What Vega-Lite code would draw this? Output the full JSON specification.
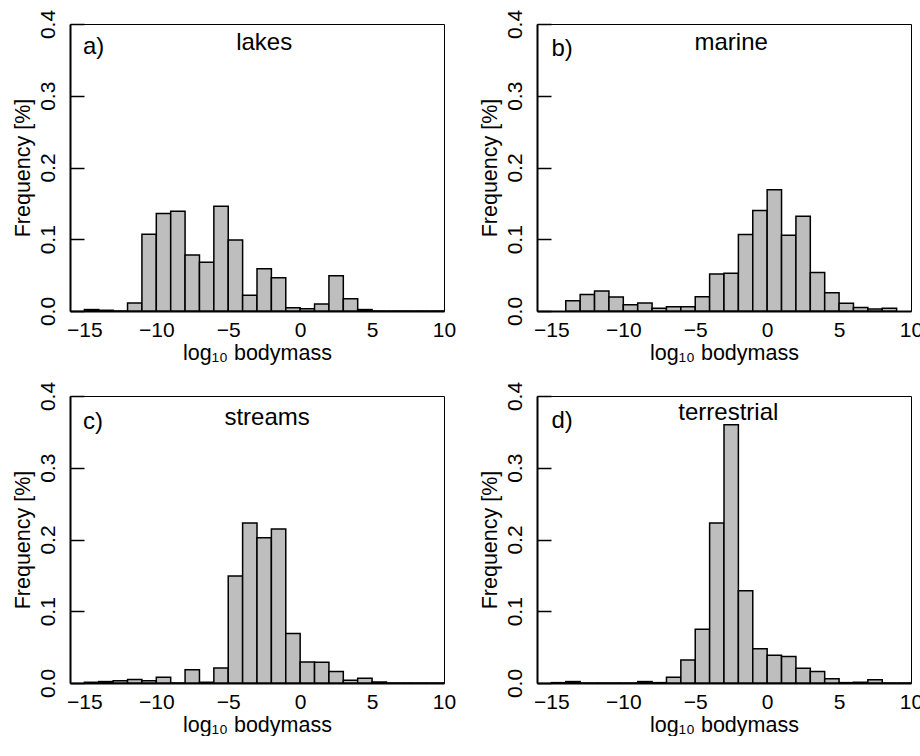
{
  "$schema": "https://vega.github.io/schema/vega-lite/v6.json",
  "padding": {"left": 11, "top": 8, "right": 0, "bottom": 0},
  "background": "white",
  "datasets": {
    "hist": [
      {"panel": "lakes", "start": -15, "end": -14, "freq": 0.002},
      {"panel": "lakes", "start": -14, "end": -13, "freq": 0.001},
      {"panel": "lakes", "start": -13, "end": -12, "freq": 0},
      {"panel": "lakes", "start": -12, "end": -11, "freq": 0.011},
      {"panel": "lakes", "start": -11, "end": -10, "freq": 0.107},
      {"panel": "lakes", "start": -10, "end": -9, "freq": 0.136},
      {"panel": "lakes", "start": -9, "end": -8, "freq": 0.139},
      {"panel": "lakes", "start": -8, "end": -7, "freq": 0.078},
      {"panel": "lakes", "start": -7, "end": -6, "freq": 0.068},
      {"panel": "lakes", "start": -6, "end": -5, "freq": 0.146},
      {"panel": "lakes", "start": -5, "end": -4, "freq": 0.099},
      {"panel": "lakes", "start": -4, "end": -3, "freq": 0.022},
      {"panel": "lakes", "start": -3, "end": -2, "freq": 0.059},
      {"panel": "lakes", "start": -2, "end": -1, "freq": 0.0465},
      {"panel": "lakes", "start": -1, "end": 0, "freq": 0.0047},
      {"panel": "lakes", "start": 0, "end": 1, "freq": 0.003},
      {"panel": "lakes", "start": 1, "end": 2, "freq": 0.0098},
      {"panel": "lakes", "start": 2, "end": 3, "freq": 0.049},
      {"panel": "lakes", "start": 3, "end": 4, "freq": 0.017},
      {"panel": "lakes", "start": 4, "end": 5, "freq": 0.002},
      {"panel": "lakes", "start": 5, "end": 6, "freq": 0},
      {"panel": "lakes", "start": 6, "end": 7, "freq": 0},
      {"panel": "lakes", "start": 7, "end": 8, "freq": 0},
      {"panel": "lakes", "start": 8, "end": 9, "freq": 0},
      {"panel": "lakes", "start": 9, "end": 10, "freq": 0},
      {"panel": "marine", "start": -14, "end": -13, "freq": 0.0144},
      {"panel": "marine", "start": -13, "end": -12, "freq": 0.023},
      {"panel": "marine", "start": -12, "end": -11, "freq": 0.028},
      {"panel": "marine", "start": -11, "end": -10, "freq": 0.0195},
      {"panel": "marine", "start": -10, "end": -9, "freq": 0.0088},
      {"panel": "marine", "start": -9, "end": -8, "freq": 0.011},
      {"panel": "marine", "start": -8, "end": -7, "freq": 0.0037},
      {"panel": "marine", "start": -7, "end": -6, "freq": 0.006},
      {"panel": "marine", "start": -6, "end": -5, "freq": 0.006},
      {"panel": "marine", "start": -5, "end": -4, "freq": 0.02},
      {"panel": "marine", "start": -4, "end": -3, "freq": 0.0516},
      {"panel": "marine", "start": -3, "end": -2, "freq": 0.0526},
      {"panel": "marine", "start": -2, "end": -1, "freq": 0.1065},
      {"panel": "marine", "start": -1, "end": 0, "freq": 0.14},
      {"panel": "marine", "start": 0, "end": 1, "freq": 0.169},
      {"panel": "marine", "start": 1, "end": 2, "freq": 0.1056},
      {"panel": "marine", "start": 2, "end": 3, "freq": 0.132},
      {"panel": "marine", "start": 3, "end": 4, "freq": 0.0535},
      {"panel": "marine", "start": 4, "end": 5, "freq": 0.0256},
      {"panel": "marine", "start": 5, "end": 6, "freq": 0.0107},
      {"panel": "marine", "start": 6, "end": 7, "freq": 0.005},
      {"panel": "marine", "start": 7, "end": 8, "freq": 0.0028},
      {"panel": "marine", "start": 8, "end": 9, "freq": 0.004},
      {"panel": "streams", "start": -15, "end": -14, "freq": 0.001},
      {"panel": "streams", "start": -14, "end": -13, "freq": 0.002},
      {"panel": "streams", "start": -13, "end": -12, "freq": 0.003},
      {"panel": "streams", "start": -12, "end": -11, "freq": 0.005},
      {"panel": "streams", "start": -11, "end": -10, "freq": 0.003},
      {"panel": "streams", "start": -10, "end": -9, "freq": 0.008},
      {"panel": "streams", "start": -9, "end": -8, "freq": 0},
      {"panel": "streams", "start": -8, "end": -7, "freq": 0.0186},
      {"panel": "streams", "start": -7, "end": -6, "freq": 0.001},
      {"panel": "streams", "start": -6, "end": -5, "freq": 0.021},
      {"panel": "streams", "start": -5, "end": -4, "freq": 0.149},
      {"panel": "streams", "start": -4, "end": -3, "freq": 0.223},
      {"panel": "streams", "start": -3, "end": -2, "freq": 0.2023},
      {"panel": "streams", "start": -2, "end": -1, "freq": 0.2145},
      {"panel": "streams", "start": -1, "end": 0, "freq": 0.069},
      {"panel": "streams", "start": 0, "end": 1, "freq": 0.0294},
      {"panel": "streams", "start": 1, "end": 2, "freq": 0.029},
      {"panel": "streams", "start": 2, "end": 3, "freq": 0.0159},
      {"panel": "streams", "start": 3, "end": 4, "freq": 0.0037},
      {"panel": "streams", "start": 4, "end": 5, "freq": 0.0065},
      {"panel": "streams", "start": 5, "end": 6, "freq": 0.0014},
      {"panel": "streams", "start": 6, "end": 7, "freq": 0},
      {"panel": "streams", "start": 7, "end": 8, "freq": 0},
      {"panel": "streams", "start": 8, "end": 9, "freq": 0},
      {"panel": "streams", "start": 9, "end": 10, "freq": 0},
      {"panel": "terrestrial", "start": -15, "end": -14, "freq": 0.0005},
      {"panel": "terrestrial", "start": -14, "end": -13, "freq": 0.002},
      {"panel": "terrestrial", "start": -13, "end": -12, "freq": 0},
      {"panel": "terrestrial", "start": -12, "end": -11, "freq": 0},
      {"panel": "terrestrial", "start": -11, "end": -10, "freq": 0},
      {"panel": "terrestrial", "start": -10, "end": -9, "freq": 0},
      {"panel": "terrestrial", "start": -9, "end": -8, "freq": 0.002},
      {"panel": "terrestrial", "start": -8, "end": -7, "freq": 0.0005},
      {"panel": "terrestrial", "start": -7, "end": -6, "freq": 0.008},
      {"panel": "terrestrial", "start": -6, "end": -5, "freq": 0.032},
      {"panel": "terrestrial", "start": -5, "end": -4, "freq": 0.075},
      {"panel": "terrestrial", "start": -4, "end": -3, "freq": 0.223},
      {"panel": "terrestrial", "start": -3, "end": -2, "freq": 0.36},
      {"panel": "terrestrial", "start": -2, "end": -1, "freq": 0.1287},
      {"panel": "terrestrial", "start": -1, "end": 0, "freq": 0.0476},
      {"panel": "terrestrial", "start": 0, "end": 1, "freq": 0.0387},
      {"panel": "terrestrial", "start": 1, "end": 2, "freq": 0.0368},
      {"panel": "terrestrial", "start": 2, "end": 3, "freq": 0.0205},
      {"panel": "terrestrial", "start": 3, "end": 4, "freq": 0.0159},
      {"panel": "terrestrial", "start": 4, "end": 5, "freq": 0.006},
      {"panel": "terrestrial", "start": 5, "end": 6, "freq": 0.0005},
      {"panel": "terrestrial", "start": 6, "end": 7, "freq": 0.001},
      {"panel": "terrestrial", "start": 7, "end": 8, "freq": 0.0047},
      {"panel": "terrestrial", "start": 8, "end": 9, "freq": 0},
      {"panel": "terrestrial", "start": 9, "end": 10, "freq": 0}
    ]
  },
  "columns": 2,
  "spacing": {"row": 85, "column": 93},
  "bounds": "flush",
  "concat": [
    {
      "width": 374, "height": 287,
      "layer": [
        {
          "data": {"name": "hist"},
          "transform": [{"filter": "datum.panel === 'lakes'"}],
          "mark": {"type": "rect", "fill": "#BEBEBE", "stroke": "black", "strokeWidth": 1.5},
          "encoding": {
            "x": {"field": "start", "type": "quantitative", "scale": {"domain": [-16, 10], "nice": false, "zero": false}, "axis": {"values": [-15, -10, -5, 0, 5, 10]}, "title": "log₁₀ bodymass"},
            "x2": {"field": "end"},
            "y": {"field": "freq", "type": "quantitative", "scale": {"domain": [0, 0.4], "nice": false}, "axis": {"values": [0, 0.1, 0.2, 0.3, 0.4], "format": ".1f"}, "title": "Frequency [%]"}
          }
        },
        {
          "data": {"values": [{}]},
          "mark": {"type": "text", "fontSize": 24, "align": "left", "baseline": "alphabetic", "color": "black"},
          "encoding": {"x": {"datum": -15.1}, "y": {"datum": 0.358}, "text": {"value": "a)"}}
        },
        {
          "data": {"values": [{}]},
          "mark": {"type": "text", "fontSize": 24, "align": "center", "baseline": "alphabetic", "color": "black"},
          "encoding": {"x": {"datum": -2.5}, "y": {"datum": 0.364}, "text": {"value": "lakes"}}
        }
      ]
    },
    {
      "width": 374, "height": 287,
      "layer": [
        {
          "data": {"name": "hist"},
          "transform": [{"filter": "datum.panel === 'marine'"}],
          "mark": {"type": "rect", "fill": "#BEBEBE", "stroke": "black", "strokeWidth": 1.5},
          "encoding": {
            "x": {"field": "start", "type": "quantitative", "scale": {"domain": [-16, 10], "nice": false, "zero": false}, "axis": {"values": [-15, -10, -5, 0, 5, 10]}, "title": "log₁₀ bodymass"},
            "x2": {"field": "end"},
            "y": {"field": "freq", "type": "quantitative", "scale": {"domain": [0, 0.4], "nice": false}, "axis": {"values": [0, 0.1, 0.2, 0.3, 0.4], "format": ".1f"}, "title": "Frequency [%]"}
          }
        },
        {
          "data": {"values": [{}]},
          "mark": {"type": "text", "fontSize": 24, "align": "left", "baseline": "alphabetic", "color": "black"},
          "encoding": {"x": {"datum": -15}, "y": {"datum": 0.356}, "text": {"value": "b)"}}
        },
        {
          "data": {"values": [{}]},
          "mark": {"type": "text", "fontSize": 24, "align": "center", "baseline": "alphabetic", "color": "black"},
          "encoding": {"x": {"datum": -2.5}, "y": {"datum": 0.364}, "text": {"value": "marine"}}
        }
      ]
    },
    {
      "width": 374, "height": 287,
      "layer": [
        {
          "data": {"name": "hist"},
          "transform": [{"filter": "datum.panel === 'streams'"}],
          "mark": {"type": "rect", "fill": "#BEBEBE", "stroke": "black", "strokeWidth": 1.5},
          "encoding": {
            "x": {"field": "start", "type": "quantitative", "scale": {"domain": [-16, 10], "nice": false, "zero": false}, "axis": {"values": [-15, -10, -5, 0, 5, 10]}, "title": "log₁₀ bodymass"},
            "x2": {"field": "end"},
            "y": {"field": "freq", "type": "quantitative", "scale": {"domain": [0, 0.4], "nice": false}, "axis": {"values": [0, 0.1, 0.2, 0.3, 0.4], "format": ".1f"}, "title": "Frequency [%]"}
          }
        },
        {
          "data": {"values": [{}]},
          "mark": {"type": "text", "fontSize": 24, "align": "left", "baseline": "alphabetic", "color": "black"},
          "encoding": {"x": {"datum": -15.1}, "y": {"datum": 0.354}, "text": {"value": "c)"}}
        },
        {
          "data": {"values": [{}]},
          "mark": {"type": "text", "fontSize": 24, "align": "center", "baseline": "alphabetic", "color": "black"},
          "encoding": {"x": {"datum": -2.3}, "y": {"datum": 0.36}, "text": {"value": "streams"}}
        }
      ]
    },
    {
      "width": 374, "height": 287,
      "layer": [
        {
          "data": {"name": "hist"},
          "transform": [{"filter": "datum.panel === 'terrestrial'"}],
          "mark": {"type": "rect", "fill": "#BEBEBE", "stroke": "black", "strokeWidth": 1.5},
          "encoding": {
            "x": {"field": "start", "type": "quantitative", "scale": {"domain": [-16, 10], "nice": false, "zero": false}, "axis": {"values": [-15, -10, -5, 0, 5, 10]}, "title": "log₁₀ bodymass"},
            "x2": {"field": "end"},
            "y": {"field": "freq", "type": "quantitative", "scale": {"domain": [0, 0.4], "nice": false}, "axis": {"values": [0, 0.1, 0.2, 0.3, 0.4], "format": ".1f"}, "title": "Frequency [%]"}
          }
        },
        {
          "data": {"values": [{}]},
          "mark": {"type": "text", "fontSize": 24, "align": "left", "baseline": "alphabetic", "color": "black"},
          "encoding": {"x": {"datum": -15}, "y": {"datum": 0.356}, "text": {"value": "d)"}}
        },
        {
          "data": {"values": [{}]},
          "mark": {"type": "text", "fontSize": 24, "align": "center", "baseline": "alphabetic", "color": "black"},
          "encoding": {"x": {"datum": -2.7}, "y": {"datum": 0.366}, "text": {"value": "terrestrial"}}
        }
      ]
    }
  ],
  "config": {
    "font": "Liberation Sans",
    "view": {"stroke": "black", "strokeWidth": 1},
    "text": {"font": "Liberation Sans"},
    "axis": {
      "grid": false,
      "domainColor": "black",
      "labelColor": "black",
      "titleColor": "black",
      "labelFont": "Liberation Sans",
      "titleFont": "Liberation Sans",
      "labelFontSize": 21,
      "titleFontSize": 21.5,
      "titleFontWeight": "normal",
      "labelOverlap": false,
      "labelBound": false
    },
    "axisX": {
      "ticks": false,
      "domainWidth": 2,
      "labelPadding": 8,
      "labelFlush": false,
      "titleY": 48,
      "titleBaseline": "alphabetic"
    },
    "axisY": {
      "ticks": true,
      "tickSize": -14,
      "tickWidth": 1.5,
      "tickColor": "black",
      "domainWidth": 2,
      "labelAngle": 270,
      "labelAlign": "center",
      "labelBaseline": "alphabetic",
      "labelPadding": 30,
      "labelFlush": false,
      "titleAngle": 270,
      "titleX": -41,
      "titleY": 143.5,
      "titleAlign": "center",
      "titleBaseline": "alphabetic"
    }
  }
}
